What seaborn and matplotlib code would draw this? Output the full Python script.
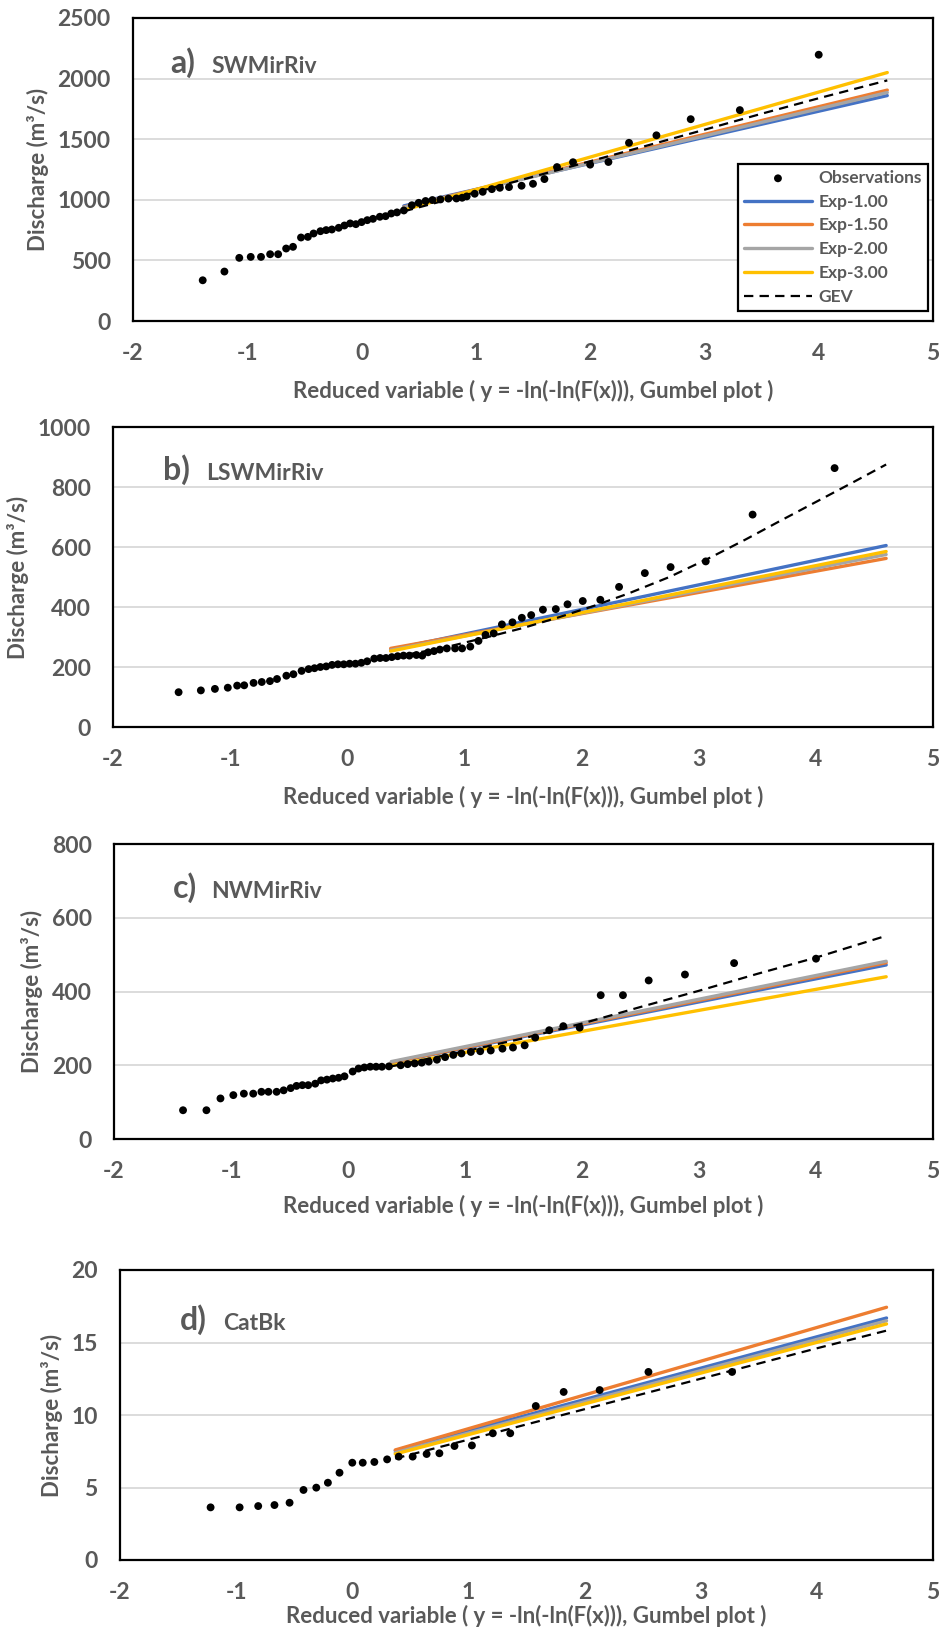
import numpy as np
import pandas as pd
import matplotlib
matplotlib.use("Agg")
import matplotlib.pyplot as plt
import seaborn as sns

# ---------------- data ----------------
fit_x = [0.37, 4.6]          # reduced-variable range of the fitted Exp lines
model_labels = ["Exp-1.00", "Exp-1.50", "Exp-2.00", "Exp-3.00"]
model_colors = ["#4472C4", "#ED7D31", "#A5A5A5", "#FFC000"]

# a) SWMirRiv
a_obs_x = [-1.39, -1.20, -1.07, -0.97, -0.88, -0.80, -0.73, -0.66, -0.60, -0.53, -0.47, -0.42,
           -0.36, -0.31, -0.26, -0.20, -0.15, -0.10, -0.05, 0.00, 0.05, 0.10, 0.16, 0.21, 0.26,
           0.31, 0.37, 0.44, 0.50, 0.56, 0.62, 0.69, 0.76, 0.83, 0.88, 0.92, 0.99, 1.06, 1.14,
           1.21, 1.29, 1.40, 1.50, 1.60, 1.71, 1.85, 2.00, 2.16, 2.34, 2.58, 2.88, 3.31, 4.00]
a_obs_y = [336, 408, 521, 529, 529, 551, 551, 598, 612, 689, 694, 722,
           741, 750, 755, 769, 788, 805, 799, 816, 832, 843, 860, 865, 887,
           896, 912, 955, 975, 990, 998, 1003, 1010, 1011, 1017, 1028, 1050, 1066, 1088,
           1099, 1105, 1116, 1132, 1171, 1270, 1310, 1290, 1312, 1470, 1532, 1665, 1740, 2197]
a_exp100 = [950, 1860]
a_exp150 = [940, 1905]
a_exp200 = [938, 1885]
a_exp300 = [915, 2050]
a_gev_x = [0.37, 1.0, 1.5, 2.0, 2.5, 3.0, 3.5, 4.0, 4.6]
a_gev_y = [905, 1062, 1190, 1318, 1448, 1578, 1710, 1838, 1985]

# b) LSWMirRiv
b_obs_x = [-1.44, -1.25, -1.13, -1.02, -0.94, -0.88, -0.80, -0.73, -0.66, -0.60, -0.52, -0.46,
           -0.39, -0.33, -0.28, -0.23, -0.18, -0.13, -0.08, -0.03, 0.02, 0.07, 0.12, 0.17,
           0.23, 0.28, 0.33, 0.38, 0.43, 0.48, 0.53, 0.59, 0.64, 0.69, 0.74, 0.79, 0.85, 0.92,
           0.98, 1.05, 1.12, 1.18, 1.25, 1.32, 1.41, 1.49, 1.57, 1.67, 1.78, 1.88, 2.01, 2.16,
           2.32, 2.54, 2.76, 3.06, 3.46, 4.16]
b_obs_y = [116, 122, 127, 131, 138, 139, 147, 150, 153, 160, 171, 176,
           187, 193, 196, 200, 202, 207, 209, 209, 211, 211, 214, 219,
           228, 230, 230, 233, 236, 238, 238, 240, 238, 249, 253, 258, 262, 262,
           262, 268, 287, 307, 312, 342, 349, 364, 373, 391, 393, 409, 420, 424,
           467, 513, 533, 552, 708, 863]
b_exp100 = [258, 605]
b_exp150 = [262, 562]
b_exp200 = [256, 575]
b_exp300 = [253, 585]
b_gev_x = [0.37, 0.8, 1.2, 1.5, 1.8, 2.1, 2.4, 2.75, 3.1, 3.4, 3.7, 4.0, 4.3, 4.6]
b_gev_y = [232, 262, 300, 330, 365, 403, 445, 500, 565, 625, 688, 750, 812, 875]

# c) NWMirRiv
c_obs_x = [-1.41, -1.21, -1.09, -0.98, -0.89, -0.81, -0.74, -0.68, -0.61, -0.55, -0.49, -0.44,
           -0.39, -0.34, -0.28, -0.23, -0.18, -0.13, -0.08, -0.03, 0.04, 0.09, 0.14, 0.19,
           0.24, 0.29, 0.35, 0.45, 0.51, 0.57, 0.63, 0.69, 0.76, 0.83, 0.90, 0.97, 1.05, 1.13,
           1.22, 1.32, 1.41, 1.51, 1.60, 1.72, 1.84, 1.98, 2.16, 2.35, 2.57, 2.88, 3.30, 4.00]
c_obs_y = [78, 78, 110, 119, 123, 123, 128, 128, 128, 132, 138, 144,
           146, 146, 150, 159, 161, 164, 166, 170, 183, 191, 194, 196,
           196, 196, 197, 200, 203, 205, 207, 210, 215, 222, 228, 232, 236, 238,
           240, 245, 248, 254, 275, 295, 306, 302, 390, 390, 430, 446, 477, 489]
c_exp100 = [207, 472]
c_exp150 = [208, 478]
c_exp200 = [210, 482]
c_exp300 = [199, 440]
c_gev_x = [0.37, 1.0, 1.5, 2.0, 2.5, 3.0, 3.5, 4.0, 4.6]
c_gev_y = [197, 238, 273, 313, 358, 402, 448, 492, 551]

# d) CatBk
d_obs_x = [-1.22, -0.97, -0.81, -0.67, -0.54, -0.42, -0.31, -0.21, -0.11, 0.00, 0.09, 0.19,
           0.30, 0.40, 0.52, 0.64, 0.75, 0.88, 1.03, 1.21, 1.36, 1.58, 1.82, 2.13, 2.55, 3.27]
d_obs_y = [3.63, 3.63, 3.72, 3.79, 3.95, 4.83, 4.99, 5.33, 6.02, 6.71, 6.71, 6.76,
           6.94, 7.13, 7.13, 7.31, 7.36, 7.86, 7.90, 8.74, 8.74, 10.62, 11.59, 11.72, 12.97, 12.97]
d_exp100 = [7.54, 16.69]
d_exp150 = [7.59, 17.43]
d_exp200 = [7.40, 16.50]
d_exp300 = [7.31, 16.28]
d_gev_x = [0.37, 1.0, 2.0, 3.0, 4.0, 4.6]
d_gev_y = [7.00, 8.30, 10.40, 12.50, 14.60, 15.82]

panel_letters = ["a)", "b)", "c)", "d)"]
panel_names = ["SWMirRiv", "LSWMirRiv", "NWMirRiv", "CatBk"]
y_max = [2500, 1000, 800, 20]
y_step = [500, 200, 200, 5]
x_ticks = [-2, -1, 0, 1, 2, 3, 4, 5]
x_label = "Reduced variable ( y = -ln(-ln(F(x))), Gumbel plot )"
y_label = "Discharge (m\u00b3/s)"

# ---------------- styling ----------------
sns.set_theme(style="white")
plt.rcParams["font.family"] = ["Lato", "DejaVu Sans"]
plt.rcParams["font.weight"] = "bold"
plt.rcParams["axes.unicode_minus"] = False
TXT = "#595959"

W, H = 941, 1639
fig = plt.figure(figsize=(W / 100, H / 100), dpi=100)

# axes boxes in pixels: left, right, top, bottom
boxes = [(133, 933, 18, 321), (113, 933, 427, 727), (114, 933, 844, 1139), (120, 933, 1270, 1560)]
title_pos = [(0.047, 0.098, 0.82), (0.061, 0.114, 0.823), (0.072, 0.118, 0.817), (0.074, 0.127, 0.793)]
xlabel_pad = [11, 11, 9, 1]

panels = [
    (a_obs_x, a_obs_y, [a_exp100, a_exp150, a_exp200, a_exp300], a_gev_x, a_gev_y),
    (b_obs_x, b_obs_y, [b_exp100, b_exp150, b_exp200, b_exp300], b_gev_x, b_gev_y),
    (c_obs_x, c_obs_y, [c_exp100, c_exp150, c_exp200, c_exp300], c_gev_x, c_gev_y),
    (d_obs_x, d_obs_y, [d_exp100, d_exp150, d_exp200, d_exp300], d_gev_x, d_gev_y),
]

for i, (ox, oy, exps, gx, gy) in enumerate(panels):
    l, r, t, b = boxes[i]
    ax = fig.add_axes([l / W, 1 - b / H, (r - l) / W, (b - t) / H])

    for lab, col, vals in zip(model_labels, model_colors, exps):
        df = pd.DataFrame({"x": fit_x, "y": vals})
        sns.lineplot(data=df, x="x", y="y", ax=ax, color=col, lw=2.4, label=lab,
                     sort=False, estimator=None, legend=False, zorder=3)
    gdf = pd.DataFrame({"x": gx, "y": gy})
    sns.lineplot(data=gdf, x="x", y="y", ax=ax, color="black", lw=1.6, label="GEV",
                 sort=False, estimator=None, legend=False, zorder=4, dashes=False)
    ax.lines[-1].set_dashes([4.2, 2.8])
    odf = pd.DataFrame({"x": ox, "y": oy})
    sns.scatterplot(data=odf, x="x", y="y", ax=ax, color="black", s=32, edgecolor="none",
                    label="Observations", legend=False, zorder=5)

    ax.set_xlim(-2, 5)
    ax.set_xticks(x_ticks)
    ax.set_ylim(0, y_max[i])
    ax.set_yticks(np.arange(0, y_max[i] + y_step[i] / 2, y_step[i]))
    ax.grid(axis="y", color="#D9D9D9", lw=1.3)
    ax.grid(axis="x", visible=False)
    ax.set_axisbelow(True)
    ax.tick_params(axis="x", direction="in", length=6, width=1.5, color="black",
                   pad=16, labelsize=16.5, labelcolor=TXT)
    ax.tick_params(axis="y", length=0, pad=16, labelsize=16.5, labelcolor=TXT)
    for s in ax.spines.values():
        s.set_visible(True)
        s.set_color("black")
        s.set_linewidth(1.6)
    ax.set_xlabel(x_label, fontsize=16, color=TXT, fontweight="bold", labelpad=xlabel_pad[i])
    ax.set_ylabel(y_label, fontsize=16, color=TXT, fontweight="bold", labelpad=6)

    lx, nx, ty = title_pos[i]
    ax.text(lx, ty, panel_letters[i], transform=ax.transAxes, fontsize=23, color=TXT,
            fontweight="bold", va="baseline", ha="left")
    ax.text(nx, ty, panel_names[i], transform=ax.transAxes, fontsize=16.5, color=TXT,
            fontweight="bold", va="baseline", ha="left")

    if i == 0:
        handles, labels = ax.get_legend_handles_labels()
        order = [labels.index(n) for n in ["Observations"] + model_labels + ["GEV"]]
        leg = ax.legend([handles[k] for k in order], [labels[k] for k in order],
                        loc="lower right", bbox_to_anchor=(0.994, 0.033),
                        fontsize=12.5, frameon=True, fancybox=False, framealpha=1,
                        edgecolor="black", handlelength=3.9, handletextpad=0.4,
                        labelspacing=0.45, borderpad=0.35, scatterpoints=1,
                        borderaxespad=0)
        leg.get_frame().set_linewidth(1.6)
        for txt in leg.get_texts():
            txt.set_color(TXT)

fig.savefig("out.png", dpi=100)
